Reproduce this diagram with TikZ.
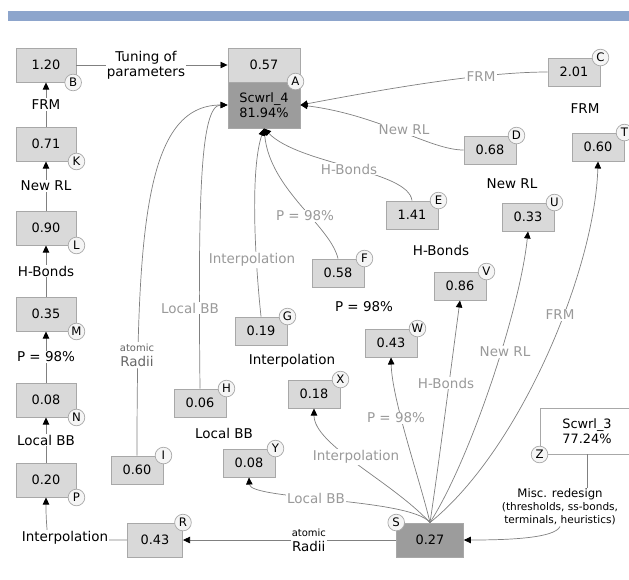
\documentclass[tikz,border=0pt]{standalone}
\usepackage{fontspec}
\setmainfont{DejaVu Sans}
\usetikzlibrary{arrows.meta}

\definecolor{barblue}{HTML}{8DA5CC}
\definecolor{boxgray}{HTML}{D9D9D9}
\definecolor{darkbox}{HTML}{9C9C9C}
\definecolor{rimgray}{HTML}{A8A8A8}
\definecolor{linegray}{HTML}{808080}
\definecolor{lblgray}{HTML}{9A9A9A}

\tikzset{
  val/.style={draw=rimgray, fill=boxgray, line width=0.8pt, minimum width=1.56cm, minimum height=0.84cm, inner sep=1pt, font=\fontsize{11}{13}\selectfont},
  colval/.style={val, minimum width=1.8cm, minimum height=1.02cm},
  darkval/.style={val, fill=darkbox},
  tagc/.style={circle, draw=rimgray, fill=black!4, line width=0.6pt, inner sep=0pt, minimum size=0.5cm, anchor=center, font=\fontsize{10}{10}\selectfont},
  link/.style={draw=linegray, line width=0.6pt, -{Triangle[length=6pt, width=5.5pt, color=black]}},
  bare/.style={draw=linegray, line width=0.6pt},
  lbl/.style={fill=white, inner sep=1pt, font=\fontsize{11.5}{13}\selectfont},
  glbl/.style={lbl, text=lblgray},
}

\begin{document}
\begin{tikzpicture}[x=0.03cm, y=-0.03cm]
\clip (0,0) rectangle (629,579);
% banda de la cabecera
\fill[barblue] (8,11) rectangle (629,21);

% Scwrl_4 arriba
\node[val, minimum width=2.16cm, minimum height=1.02cm] (Atop) at (264,65) {0.57};
\node[darkval, minimum width=2.16cm, minimum height=1.38cm, align=center, label={[tagc, xshift=-0.15cm]north east:A}] (A) at (264,105) {Scwrl\_4\\81.94\%};

% columna de la izquierda
\node[colval, label={[tagc, xshift=-0.1cm]south east:B}] (B) at (46,65) {1.20};
\node[colval, label={[tagc]south east:K}] (K) at (46,144) {0.71};
\node[colval, label={[tagc]south east:L}] (L) at (46,228) {0.90};
\node[colval, label={[tagc]south east:M}] (M) at (46,314) {0.35};
\node[colval, label={[tagc]south east:N}] (N) at (46,400) {0.08};
\node[colval, label={[tagc]south east:P}] (P) at (46,480) {0.20};

% cajas sueltas
\node[val, label={[tagc]north east:C}] (C) at (574,72) {2.01};
\node[val, label={[tagc]north east:D}] (D) at (490,150) {0.68};
\node[val, label={[tagc]north east:T}] (T) at (598,147) {0.60};
\node[val, label={[tagc]north east:E}] (E) at (412,215) {1.41};
\node[val, label={[tagc]north east:U}] (U) at (528,217) {0.33};
\node[val, label={[tagc]north east:F}] (F) at (338,273) {0.58};
\node[val, label={[tagc]north east:V}] (V) at (460,286) {0.86};
\node[val, label={[tagc]north east:G}] (G) at (261,331) {0.19};
\node[val, label={[tagc]north east:W}] (W) at (391,343) {0.43};
\node[val, label={[tagc]north east:X}] (X) at (314,394) {0.18};
\node[val, label={[tagc]north east:H}] (H) at (200,403) {0.06};
\node[val, label={[tagc]north east:I}] (I) at (137,470) {0.60};
\node[val, label={[tagc]north east:Y}] (Y) at (249,463) {0.08};
\node[colval, minimum width=1.65cm, label={[tagc]north east:R}] (R) at (155,540) {0.43};
\node[darkval, minimum width=2cm, minimum height=1.02cm, label={[tagc]north west:S}] (S) at (430,540) {0.27};
\node[val, fill=white, minimum width=2.82cm, minimum height=1.38cm, align=center, label={[tagc]south west:Z}] (Z) at (587,431) {Scwrl\_3\\77.24\%};

% titulos de la derecha
\node[lbl] (hFRM) at (585,109) {FRM};
\node[lbl] (hRL) at (512,184) {New RL};
\node[lbl] (hHB) at (441,250) {H-Bonds};
\node[lbl] (hP) at (364,307) {P = 98\%};
\node[lbl] (hInt) at (292,361) {Interpolation};
\node[lbl] (hBB) at (224,433) {Local BB};

% flechas de la izquierda
\draw[link] (B) -- node[lbl, align=center, pos=0.46] (lTun) {Tuning of\\parameters} (Atop);
\draw[link] (K) -- node[lbl] (lKB) {FRM} (B);
\draw[link] (L) -- node[lbl] (lLK) {New RL} (K);
\draw[link] (M) -- node[lbl] (lML) {H-Bonds} (L);
\draw[link] (N) -- node[lbl] (lNM) {P = 98\%} (M);
\draw[link] (P) -- node[lbl] (lPN) {Local BB} (N);
\draw[link] (R.west) -- (48,540) .. controls (46,520) and (46,512) .. (P.south);
\node[lbl] (lRP) at (65,538) {Interpolation};

% todo llega a Scwrl_4
\draw[link] (C.west) .. controls (480,72) and (380,90) .. (A.east);
\draw[link] (D.west) .. controls (430,150) and (380,115) .. (A.east);
\draw[link] (E.north) .. controls (408,170) and (300,165) .. (A.south);
\draw[link] (F.north) .. controls (330,225) and (270,190) .. (A.south);
\draw[link] (G.north) .. controls (255,260) and (250,170) .. (A.south);
\draw[link] (H.north) .. controls (198,200) and (200,105) .. (A.west);
\draw[link] (I.north) .. controls (137,230) and (145,105) .. (A.west);
\node[glbl] (lCA) at (481,77) {FRM};
\node[glbl] (lDA) at (404,130) {New RL};
\node[glbl] (lEA) at (349,169) {H-Bonds};
\node[glbl] (lFA) at (305,216) {P = 98\%};
\node[glbl] (lGA) at (252,260) {Interpolation};
\node[glbl] (lHA) at (190,308) {Local BB};
\node[glbl, text=black!60, align=center] (lIA) at (137,355) {{\fontsize{8.5}{9}\selectfont atomic}\\Radii};

% y todo sale de 0.27
\draw[link] (S.north) .. controls (520,450) and (595,270) .. (T.south);
\draw[link] (S.north) .. controls (470,460) and (520,310) .. (U.south);
\draw[link] (S.north) .. controls (438,470) and (452,360) .. (V.south);
\draw[link] (S.north) .. controls (420,480) and (392,400) .. (W.south);
\draw[link] (S.north) .. controls (390,480) and (314,445) .. (X.south);
\draw[link] (S.north) .. controls (410,498) and (250,500) .. (Y.south);
\draw[link] (S.west) -- node[lbl, align=center, pos=0.41] (lSR) {{\fontsize{8.5}{9}\selectfont atomic}\\Radii} (R.east);
\node[glbl] (lST) at (560,315) {FRM};
\node[glbl] (lSU) at (505,352) {New RL};
\node[glbl] (lSV) at (446,383) {H-Bonds};
\node[glbl] (lSW) at (396,418) {P = 98\%};
\node[glbl] (lSX) at (356,457) {Interpolation};
\node[glbl] (lSY) at (316,498) {Local BB};

% Scwrl_3 -> 0.27
\node[lbl, align=center, font=\fontsize{10}{11}\selectfont] (lMisc) at (560,507) {Misc. redesign\\{\fontsize{9}{10}\selectfont (thresholds, ss-bonds,}\\{\fontsize{9}{10}\selectfont terminals, heuristics)}};
\draw[bare] (Z.south) -- (Z.south |- lMisc.north);
\draw[link] (lMisc.south) .. controls (555,538) and (510,540) .. (S.east);
\end{tikzpicture}
\end{document}
